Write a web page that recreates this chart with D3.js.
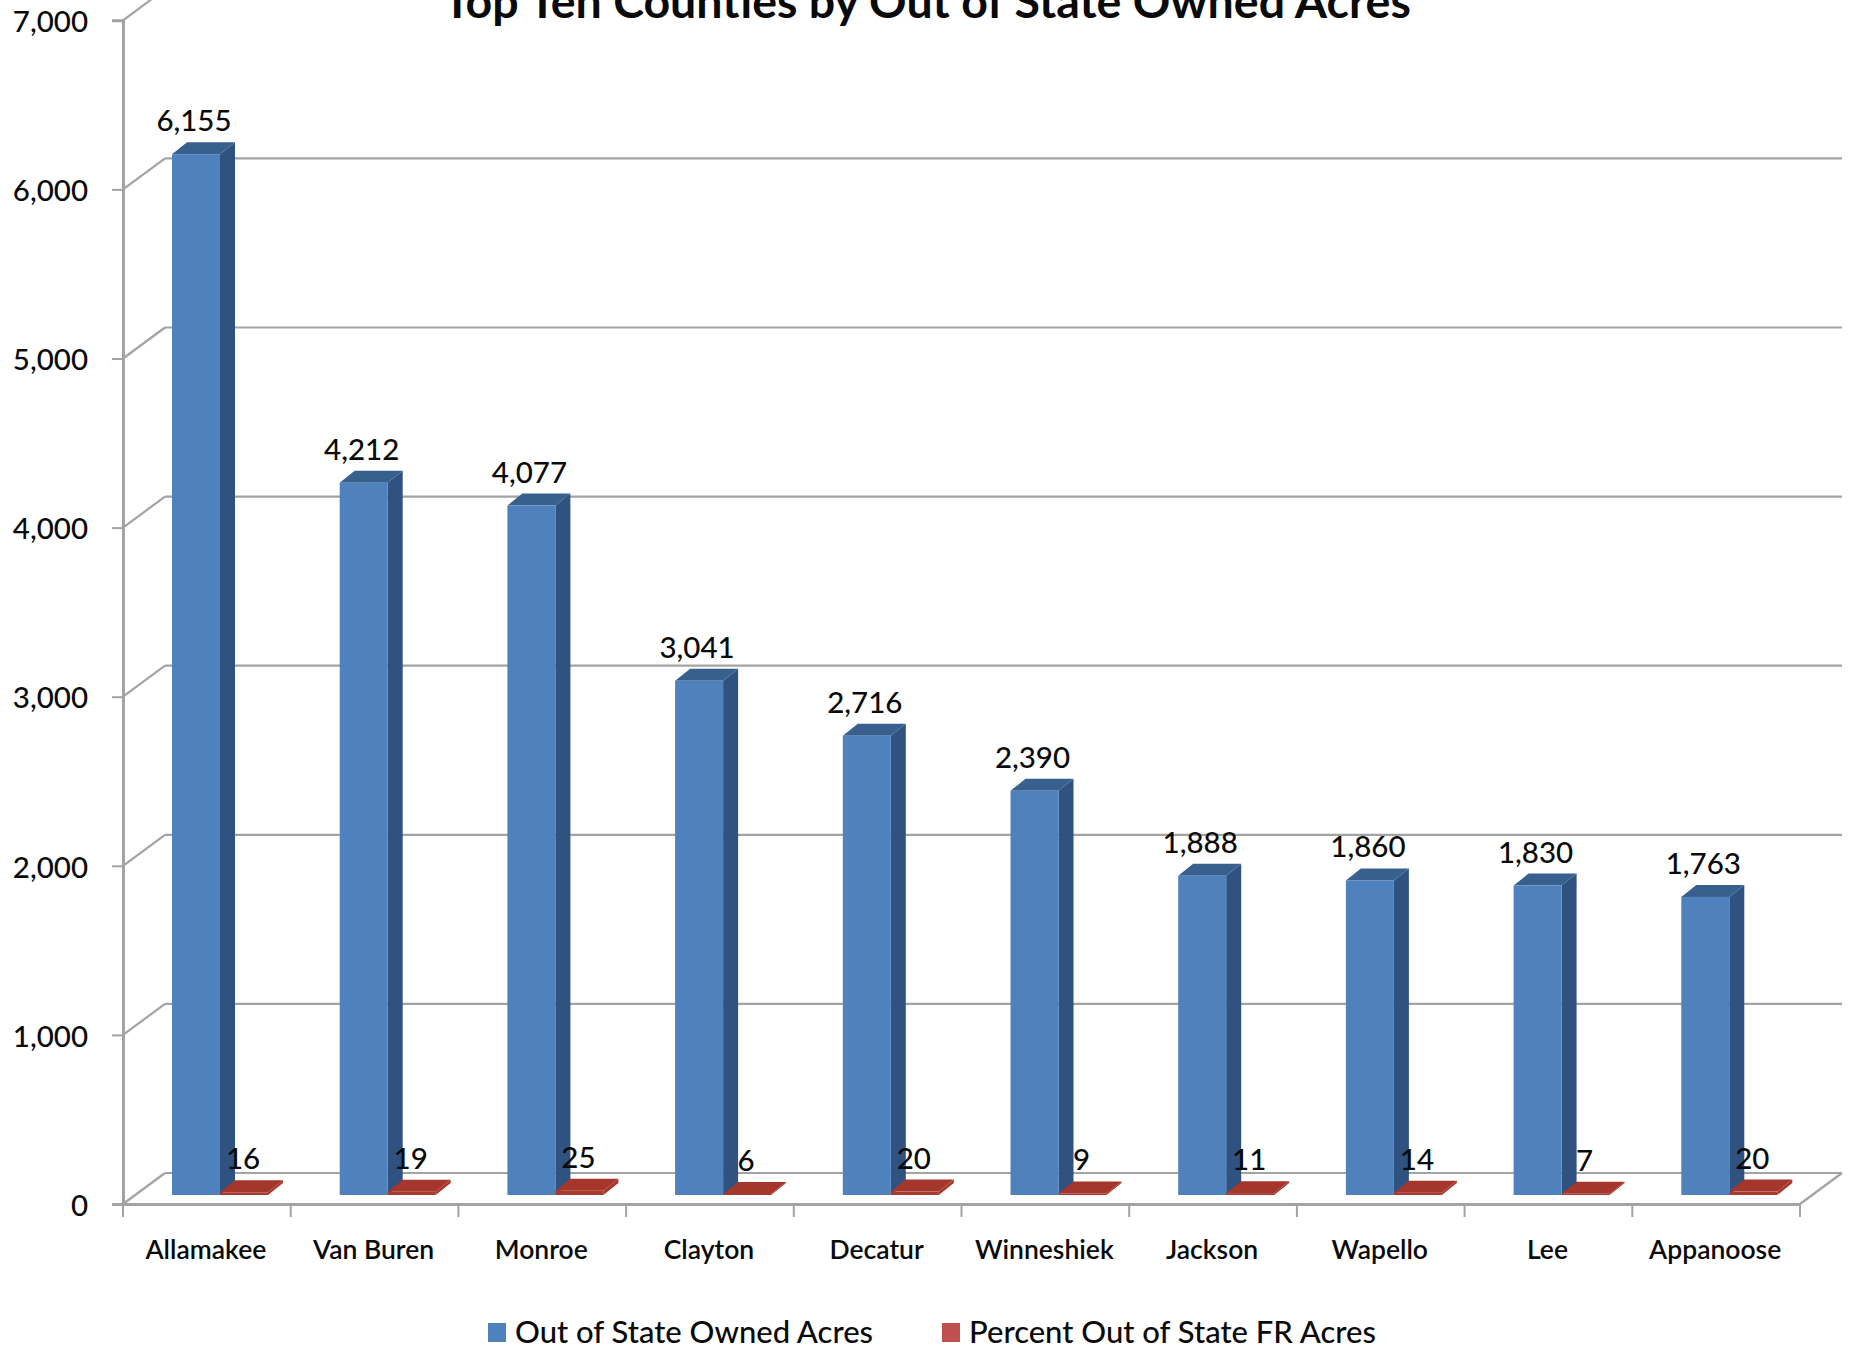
<!DOCTYPE html>
<html>
<head>
<meta charset="utf-8">
<script src="https://cdn.jsdelivr.net/npm/d3@7"></script>
<style>
  html, body { margin: 0; padding: 0; background: #fff; }
  svg { display: block; }
  text { font-family: Lato, sans-serif; fill: #0a0a0a; }
</style>
</head>
<body>
<div id="chart"></div>
<script>
const counties = ["Allamakee", "Van Buren", "Monroe", "Clayton", "Decatur", "Winneshiek", "Jackson", "Wapello", "Lee", "Appanoose"];
const ownedAcres = [6155, 4212, 4077, 3041, 2716, 2390, 1888, 1860, 1830, 1763];
const percentFr = [16, 19, 25, 6, 20, 9, 11, 14, 7, 20];
const yTicks = [0, 1000, 2000, 3000, 4000, 5000, 6000, 7000];
const legendLabels = ["Out of State Owned Acres", "Percent Out of State FR Acres"];
const chartTitle = "Top Ten Counties by Out of State Owned Acres";

const width = 1849, height = 1349;
const left = 123, right = 1800, floorY = 1204;

const svg = d3.select("#chart").append("svg")
  .attr("width", width)
  .attr("height", height)
  .attr("viewBox", [0, 0, width, height]);

const x = d3.scaleBand().domain(counties).range([left, right]);
const y = d3.scaleLinear().domain([0, 7000]).range([floorY, floorY - 7 * 169.1]);

// 3d offsets of the walls and the bars
const wall = { dx: 42, dy: -31 };
const front = { dy: -9 };
const depth = { dx: 15, dy: -12 };
const barW = 48;
const barX = d => x(d) + 49;
const grey = "#a3a3a3";

// back wall gridlines + diagonals on the side wall
const grid = svg.append("g").attr("fill", "none").attr("stroke", grey).attr("stroke-width", 2.2);
grid.selectAll("line.grid").data(yTicks).join("line")
  .attr("class", "grid")
  .attr("x1", left + wall.dx).attr("x2", right + wall.dx)
  .attr("y1", d => y(d) + wall.dy).attr("y2", d => y(d) + wall.dy);
grid.selectAll("line.diag").data(yTicks).join("line")
  .attr("class", "diag")
  .attr("x1", left).attr("x2", left + wall.dx)
  .attr("y1", d => y(d)).attr("y2", d => y(d) + wall.dy);
grid.append("line")
  .attr("x1", right).attr("x2", right + wall.dx)
  .attr("y1", floorY).attr("y2", floorY + wall.dy);

// y axis
const yAxis = svg.append("g")
  .attr("transform", `translate(${left},0)`)
  .call(d3.axisLeft(y).tickValues(yTicks).tickSize(11).tickPadding(24).tickFormat(d3.format(",")));
yAxis.selectAll("text").attr("font-size", 29.5).attr("font-weight", 500).attr("dy", "0.38em");
yAxis.selectAll("line").attr("stroke", grey).attr("stroke-width", 2);
yAxis.select(".domain").attr("stroke", grey).attr("stroke-width", 3);

// x axis: labels from the band scale, ticks on the band edges
const xAxis = svg.append("g")
  .attr("transform", `translate(0,${floorY})`)
  .call(d3.axisBottom(x).tickSize(0).tickPadding(36));
xAxis.selectAll("text").attr("font-size", 26.5).attr("font-weight", 600).attr("dx", -1);
xAxis.select(".domain").attr("stroke", grey).attr("stroke-width", 3);
xAxis.selectAll("line.edge").data(counties.map(d => x(d)).concat(right)).join("line")
  .attr("class", "edge")
  .attr("x1", d => d).attr("x2", d => d)
  .attr("y1", 0).attr("y2", 13)
  .attr("stroke", grey).attr("stroke-width", 2);

function bar3d(g, px, value, w, colors) {
  const x0 = px, x1 = x0 + w;
  const yb = y(0) + front.dy, yt = y(value) + front.dy;
  const pts = a => a.map(p => p.join(",")).join(" ");
  g.append("polygon").attr("fill", colors.side)
    .attr("points", pts([[x1, yb], [x1 + depth.dx, yb + depth.dy], [x1 + depth.dx, yt + depth.dy], [x1, yt]]));
  g.append("polygon").attr("fill", colors.top)
    .attr("points", pts([[x0, yt], [x0 + depth.dx, yt + depth.dy], [x1 + depth.dx, yt + depth.dy], [x1, yt]]));
  g.append("rect").attr("fill", colors.front)
    .attr("x", x0).attr("y", yt).attr("width", w).attr("height", yb - yt);
}

const blue = { front: "#4f81bd", side: "#2f5280", top: "#38608f" };
const red = { front: "#a83a2e", side: "#a5362b", top: "#a5362b" };

const marks = svg.append("g");
counties.forEach((c, i) => {
  bar3d(marks, barX(c), ownedAcres[i], barW, blue);
  bar3d(marks, barX(c) + barW, percentFr[i], barW, red);
});

// data labels
const labels = svg.append("g").attr("text-anchor", "middle");
labels.selectAll("text.owned").data(counties).join("text")
  .attr("class", "owned")
  .attr("x", d => barX(d) + barW / 2 - 2)
  .attr("y", (d, i) => y(ownedAcres[i]) + front.dy + depth.dy - 11)
  .attr("font-size", 29.5).attr("font-weight", 500)
  .text((d, i) => d3.format(",")(ownedAcres[i]));
labels.selectAll("text.pct").data(counties).join("text")
  .attr("class", "pct")
  .attr("x", d => barX(d) + barW * 1.5 - 1)
  .attr("y", (d, i) => y(percentFr[i]) + front.dy + depth.dy - 11)
  .attr("font-size", 29.5).attr("font-weight", 500)
  .text((d, i) => percentFr[i]);

// title (cut by the top of the picture, as in the source image)
svg.append("text")
  .attr("x", 927).attr("y", 18)
  .attr("text-anchor", "middle")
  .attr("font-size", 46.5).attr("font-weight", 700)
  .text(chartTitle);

// legend
const legendX = [488, 942];
const legendColors = ["#4f81bd", "#c0504d"];
const legend = svg.append("g");
legend.selectAll("rect").data(legendLabels).join("rect")
  .attr("x", (d, i) => legendX[i]).attr("y", 1323)
  .attr("width", 18).attr("height", 19)
  .attr("fill", (d, i) => legendColors[i]);
legend.selectAll("text").data(legendLabels).join("text")
  .attr("x", (d, i) => legendX[i] + 27).attr("y", 1343)
  .attr("font-size", 31).attr("font-weight", 500)
  .text(d => d);
</script>
</body>
</html>
